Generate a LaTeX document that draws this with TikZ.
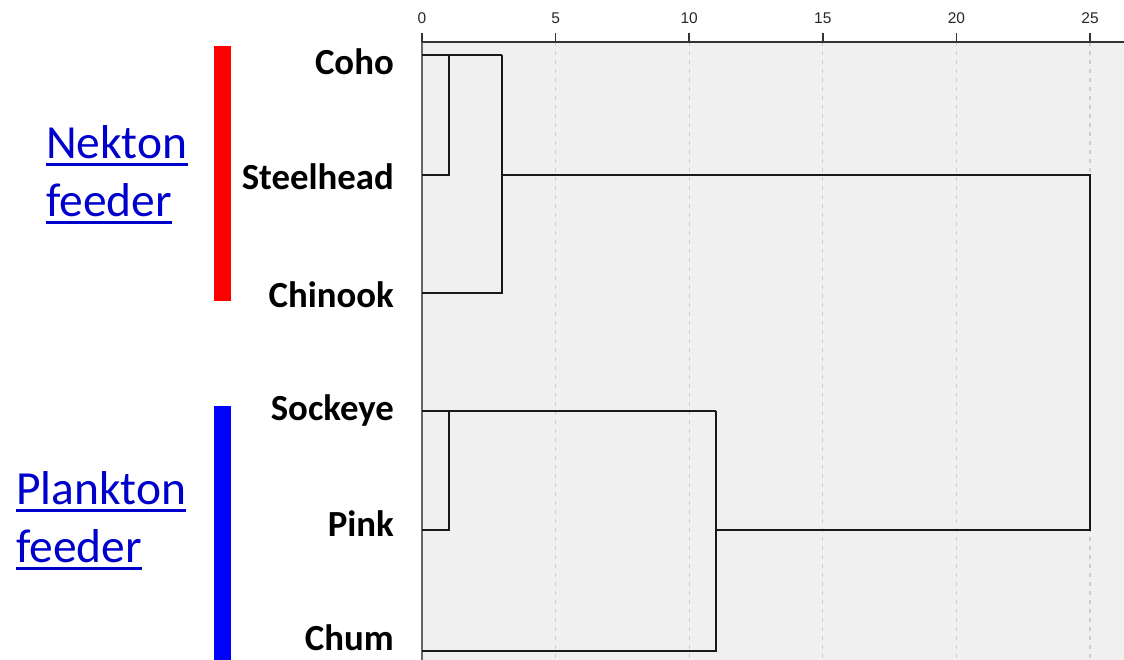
\documentclass[tikz,border=0pt]{standalone}
\usepackage{fontspec}
\setmainfont{Carlito}
\newfontfamily\axisfont{Liberation Sans}
\definecolor{panelgray}{RGB}{240,240,240}
\definecolor{gridgray}{RGB}{205,205,205}
\definecolor{linkblue}{RGB}{0,0,204}
\definecolor{ticktext}{RGB}{40,40,40}
\begin{document}
\begin{tikzpicture}[x=1pt,y=-1pt,
  leaf/.style={font=\bfseries\fontsize{36.8}{36.8}\selectfont, anchor=base east, inner sep=0pt},
  group/.style={font=\fontsize{47.5}{47.5}\selectfont, text=linkblue, anchor=base west, inner sep=0pt},
  uline/.style={draw=linkblue, line width=3pt},
  branch/.style={line width=2.4pt, black!90},
  gridline/.style={draw=gridgray, line width=1.2pt, dash pattern=on 4pt off 5pt},
  ticklabel/.style={font=\axisfont\fontsize{15.5}{15.5}\selectfont, text=ticktext, inner sep=0pt},
  axisline/.style={line width=1.6pt, draw=black!80}
]
\useasboundingbox (0,0) rectangle (1124,660);

% plotting panel and grid
\fill[panelgray] (422,42) rectangle (1124,660);
\foreach \v in {5,10,...,25}
  \draw[gridline] ({422+26.72*\v},42) -- ({422+26.72*\v},660);
\draw[line width=1.2pt, draw=black!60] (422,42) -- (422,660);

% distance axis
\draw[axisline] (422,42) -- (1124,42);
\foreach \v in {0,5,...,25} {
  \draw[axisline] ({422+26.72*\v},33) -- ({422+26.72*\v},42);
  \node[ticklabel] (t\v) at ({422+26.72*\v},18) {\v};
}

% leaf labels
\node[leaf] (lcoho)  at (394,75)  {Coho};
\node[leaf] (lsteel) at (394,190) {Steelhead};
\node[leaf] (lchin)  at (394,307) {Chinook};
\node[leaf] (lsock)  at (394,420) {Sockeye};
\node[leaf] (lpink)  at (394,536) {Pink};
\node[leaf] (lchum)  at (394,650) {Chum};

% leaf ends of the tree
\coordinate (coho)  at (422,55);
\coordinate (steel) at (422,175);
\coordinate (chin)  at (422,293);
\coordinate (sock)  at (422,411);
\coordinate (pink)  at (422,530);
\coordinate (chum)  at (422,651);

% merge points (distance 1, 3, 11, 25)
\coordinate (a1)  at (449,55);
\coordinate (a2)  at (502,55);
\coordinate (a3)  at (502,175);
\coordinate (b1)  at (449,411);
\coordinate (b2)  at (716,411);
\coordinate (b3)  at (716,530);
\coordinate (r1)  at (1090,175);
\coordinate (r2)  at (1090,530);

% dendrogram branches
\draw[branch] (coho) -- (a2);
\draw[branch] (steel) -| (a1);
\draw[branch] (chin) -| (a2);
\draw[branch] (sock) -- (b2);
\draw[branch] (pink) -| (b1);
\draw[branch] (chum) -| (b2);
\draw[branch] (a3) -- (r1) -- (r2) -- (b3);

% group bars
\fill[red] (214,46) rectangle (231,301);
\fill[blue] (214,406) rectangle (231,660);

% group labels
\node[group] (nek)  at (46,159) {Nekton};
\node[group] (nekf) at (46,217) {feeder};
\node[group] (pla)  at (16,504) {Plankton};
\node[group] (plaf) at (16,562) {feeder};
\foreach \n in {nek,nekf,pla,plaf}
  \draw[uline] ([yshift=-6pt]\n.base west) -- ([yshift=-6pt]\n.base east);
\end{tikzpicture}
\end{document}
